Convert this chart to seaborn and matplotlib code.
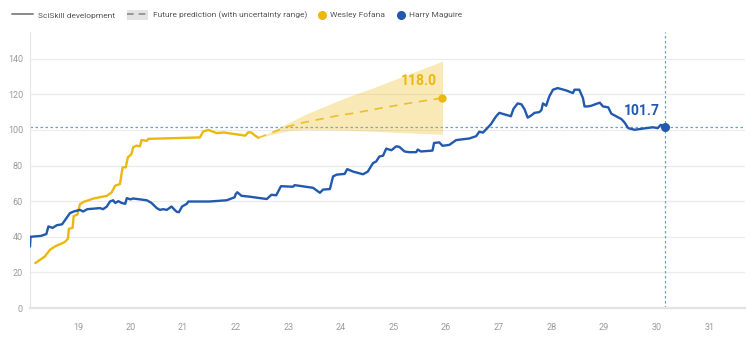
import matplotlib
matplotlib.use("Agg")
import matplotlib.pyplot as plt
import seaborn as sns
import pandas as pd
from matplotlib.lines import Line2D
from matplotlib.patches import Patch

# ---------------- data ----------------
maguire_x = [18.09, 18.10, 18.30, 18.40, 18.44, 18.52, 18.60, 18.70, 18.85, 18.92, 19.04, 19.10,
             19.18, 19.42, 19.48, 19.55, 19.61, 19.67, 19.71, 19.77, 19.83, 19.90, 19.93, 20.00,
             20.05, 20.31, 20.40, 20.50, 20.56, 20.62, 20.69, 20.78, 20.84, 20.88, 20.92, 20.98,
             21.07, 21.10, 21.50, 21.83, 21.98, 22.00, 22.03, 22.11, 22.27, 22.59, 22.68, 22.77,
             22.86, 23.09, 23.12, 23.47, 23.60, 23.66, 23.79, 23.85, 23.92, 24.07, 24.12, 24.23,
             24.42, 24.51, 24.61, 24.67, 24.73, 24.80, 24.86, 24.96, 25.05, 25.11, 25.21, 25.30,
             25.43, 25.46, 25.52, 25.74, 25.77, 25.87, 25.93, 26.06, 26.19, 26.44, 26.57, 26.63,
             26.70, 26.79, 26.85, 26.95, 27.01, 27.23, 27.28, 27.36, 27.43, 27.49, 27.55, 27.62,
             27.68, 27.77, 27.81, 27.84, 27.90, 27.96, 28.03, 28.12, 28.28, 28.41, 28.44, 28.53,
             28.60, 28.63, 28.69, 28.76, 28.85, 28.92, 28.98, 29.08, 29.14, 29.33, 29.39, 29.46,
             29.58, 29.68, 29.80, 29.93, 30.02, 30.08, 30.15]
maguire_y = [34.5, 40.0, 40.5, 41.5, 45.8, 45.0, 46.5, 47.0, 53.3, 54.2, 55.1, 54.2,
             55.5, 56.1, 55.5, 57.0, 59.8, 60.5, 59.0, 60.0, 59.0, 58.5, 61.7, 61.0,
             61.5, 60.5, 59.0, 56.1, 55.1, 55.5, 55.1, 57.0, 55.1, 54.0, 53.8, 57.0,
             58.5, 59.8, 59.8, 60.5, 62.2, 64.0, 65.0, 63.0, 62.5, 61.2, 63.6, 63.3,
             68.4, 68.1, 69.0, 67.5, 64.7, 66.5, 66.8, 73.9, 74.9, 75.3, 78.0, 76.6,
             75.1, 76.6, 81.4, 82.3, 85.1, 85.5, 89.5, 88.6, 90.8, 90.5, 87.9, 87.5,
             87.5, 89.0, 87.9, 88.4, 92.7, 93.0, 91.1, 91.6, 94.3, 95.2, 96.5, 99.0,
             98.5, 101.3, 103.2, 107.7, 109.6, 107.7, 111.9, 114.9, 114.4, 111.6, 106.9, 108.2,
             109.6, 110.0, 111.1, 114.9, 113.6, 118.8, 122.6, 123.5, 122.2, 120.7, 122.6, 122.6,
             117.9, 113.2, 113.2, 113.6, 114.6, 115.3, 113.2, 112.7, 109.1, 106.1, 104.2, 101.0,
             100.1, 100.5, 101.0, 101.5, 101.0, 102.9, 101.7]

fofana_x = [18.19, 18.37, 18.47, 18.56, 18.75, 18.81, 18.83, 18.90, 18.92, 18.99, 19.04, 19.11,
            19.30, 19.55, 19.64, 19.71, 19.80, 19.85, 19.91, 19.95, 20.02, 20.05, 20.11, 20.18,
            20.21, 20.31, 20.34, 21.32, 21.38, 21.48, 21.64, 21.77, 22.18, 22.24, 22.30, 22.36,
            22.43]
fofana_y = [25.2, 28.9, 32.7, 34.5, 37.0, 38.9, 44.5, 45.0, 51.6, 52.5, 58.3, 59.6,
            61.5, 63.0, 64.9, 68.7, 69.6, 79.0, 79.0, 84.6, 86.5, 90.2, 91.2, 90.8,
            94.3, 93.9, 95.0, 95.8, 99.1, 100.0, 98.2, 98.6, 96.8, 98.7, 98.5, 97.0,
            95.6]

pred_x = [22.43, 23.00, 23.31, 23.97, 24.26, 24.60, 25.21, 25.93]
pred_mid = [95.6, 102.0, 104.3, 108.2, 109.5, 111.4, 114.6, 118.0]
pred_hi = [95.6, 104.0, 108.6, 116.7, 120.0, 123.5, 130.5, 138.6]
pred_lo = [95.6, 99.6, 100.2, 100.0, 99.6, 99.3, 98.4, 97.5]

names = ["Wesley Fofana", "Harry Maguire"]
legend_labels = ["SciSkill development", "Future prediction (with uncertainty range)"]
x_ticks = list(range(19, 32))
y_ticks = [0, 20, 40, 60, 80, 100, 120, 140]

# ---------------- style ----------------
YELLOW = "#EBB80E"
BLUE = "#2159AE"
REF = "#6E9BDD"
GRID = "#EBEBEB"
TICKC = "#9A9A9A"

sns.set_style("white")
plt.rcParams["font.family"] = ["Roboto", "DejaVu Sans"]

fig = plt.figure(figsize=(7.5, 3.38), dpi=100)
ax = fig.add_axes([30 / 750, 1 - 308 / 338, 715 / 750, 276 / 338])

df_m = pd.DataFrame({"x": maguire_x, "y": maguire_y, "player": names[1]})
df_f = pd.DataFrame({"x": fofana_x, "y": fofana_y, "player": names[0]})
df_p = pd.DataFrame({"x": pred_x, "y": pred_mid, "lo": pred_lo, "hi": pred_hi})

# uncertainty band + prediction
ax.fill_between(df_p["x"], df_p["lo"], df_p["hi"], color=YELLOW, alpha=0.3, linewidth=0, zorder=2)
sns.lineplot(data=df_p, x="x", y="y", ax=ax, color=YELLOW, linewidth=1.2, linestyle=(0, (5, 4)),
             sort=False, estimator=None, alpha=0.85, zorder=3)

sns.lineplot(data=df_f, x="x", y="y", ax=ax, color=YELLOW, linewidth=1.7, sort=False,
             estimator=None, zorder=4)
sns.lineplot(data=df_m, x="x", y="y", ax=ax, color=BLUE, linewidth=1.7, sort=False,
             estimator=None, zorder=5)

# end markers
ax.plot(pred_x[-1], pred_mid[-1], "o", color=YELLOW, markersize=5, zorder=6)
ax.plot(maguire_x[-1], maguire_y[-1], "o", color=BLUE, markersize=5.5, zorder=6)

# reference lines
ax.axhline(maguire_y[-1], color=REF, linewidth=0.9, linestyle=(0, (2, 2)), zorder=1)
ax.axvline(maguire_x[-1], color=REF, linewidth=0.9, linestyle=(0, (2, 2)), zorder=1)

# value labels
ax.text(pred_x[-1] - 0.1, 127.4, f"{pred_mid[-1]:.1f}", color=YELLOW, fontsize=10,
        fontweight="bold", ha="right", va="center", zorder=7)
ax.text(maguire_x[-1] - 0.09, 110.5, f"{maguire_y[-1]:.1f}", color=BLUE, fontsize=10,
        fontweight="bold", ha="right", va="center", zorder=7)

# axes formatting
ax.set_xlim(18.09, 31.68)
ax.set_ylim(0, 155)
ax.set_xticks(x_ticks)
ax.set_xticklabels([str(t) for t in x_ticks])
ax.set_yticks(y_ticks)
ax.set_yticklabels([str(t) for t in y_ticks])
ax.set_xlabel("")
ax.set_ylabel("")
ax.yaxis.grid(True, color=GRID, linewidth=0.8)
ax.xaxis.grid(False)
ax.set_axisbelow(True)
for s in ["top", "right"]:
    ax.spines[s].set_visible(False)
ax.spines["left"].set_color("#E6E6E6")
ax.spines["left"].set_linewidth(0.8)
ax.spines["bottom"].set_color("#E3E3E3")
ax.spines["bottom"].set_linewidth(1.6)
ax.tick_params(axis="x", colors=TICKC, labelsize=6.5, length=5, width=0.6, pad=6, color="#E3E3E3")
ax.tick_params(axis="y", colors=TICKC, labelsize=6.5, length=0, pad=5)
ax.tick_params(axis="x", labelcolor=TICKC)

# legend (two groups)
ly = 1 - 15 / 338
h1 = [
    Line2D([], [], color="#8A8A8A", linewidth=1.4),
    (Patch(facecolor="#E3E3E3", edgecolor="none"),
     Line2D([], [], color="#8A8A8A", linewidth=1.2, linestyle=(0, (4, 3)))),
]
fig.legend(h1, legend_labels, loc="center left", bbox_to_anchor=(12 / 750, ly), ncol=2,
           frameon=False, fontsize=6, handlelength=2.5, handletextpad=0.6, handleheight=1.5,
           columnspacing=1.5, labelcolor="#555555", borderaxespad=0, borderpad=0)
h2 = [
    Line2D([], [], marker="o", color=YELLOW, linestyle="none", markersize=5.5),
    Line2D([], [], marker="o", color=BLUE, linestyle="none", markersize=5.5),
]
fig.legend(h2, names, loc="center left", bbox_to_anchor=(318 / 750, ly), ncol=2,
           frameon=False, fontsize=6, handlelength=1.0, handletextpad=0.4,
           columnspacing=1.5, labelcolor="#555555", borderaxespad=0, borderpad=0)

fig.savefig("out.png", dpi=100)
